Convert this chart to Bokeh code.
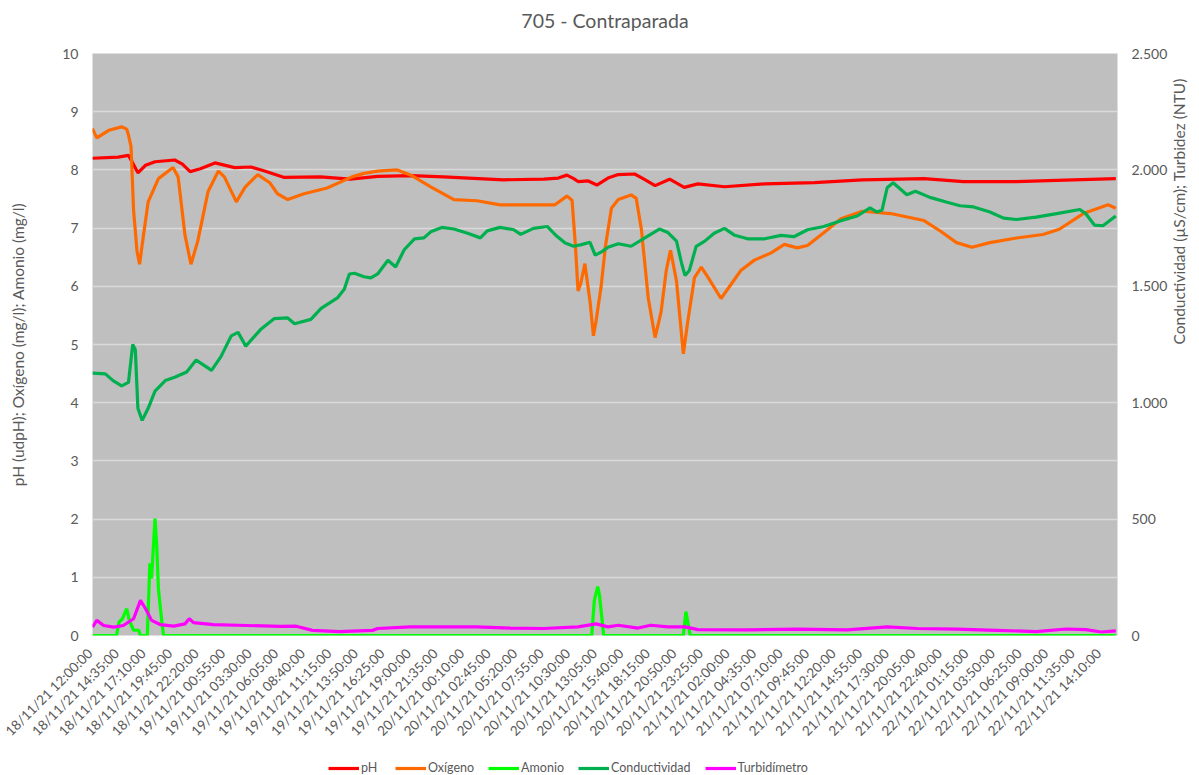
import math
from bokeh.plotting import figure
from bokeh.layouts import column
from bokeh.models import (Range1d, LinearAxis, FixedTicker, Legend, LegendItem, Label)
from bokeh.embed import file_html
from bokeh.resources import INLINE

FONT = "Lato"
GREY = "#595959"

title_text = "705 - Contraparada"

# ---- X axis (minutes since 18/11/21 12:00:00; a label every 155 min) ----
label_step_min = 155
x_labels = [
    "18/11/21  12:00:00", "18/11/21  14:35:00", "18/11/21  17:10:00", "18/11/21  19:45:00", "18/11/21  22:20:00",
    "19/11/21  00:55:00", "19/11/21  03:30:00", "19/11/21  06:05:00", "19/11/21  08:40:00", "19/11/21  11:15:00",
    "19/11/21  13:50:00", "19/11/21  16:25:00", "19/11/21  19:00:00", "19/11/21  21:35:00",
    "20/11/21  00:10:00", "20/11/21  02:45:00", "20/11/21  05:20:00", "20/11/21  07:55:00", "20/11/21  10:30:00",
    "20/11/21  13:05:00", "20/11/21  15:40:00", "20/11/21  18:15:00", "20/11/21  20:50:00", "20/11/21  23:25:00",
    "21/11/21  02:00:00", "21/11/21  04:35:00", "21/11/21  07:10:00", "21/11/21  09:45:00", "21/11/21  12:20:00",
    "21/11/21  14:55:00", "21/11/21  17:30:00", "21/11/21  20:05:00", "21/11/21  22:40:00",
    "22/11/21  01:15:00", "22/11/21  03:50:00", "22/11/21  06:25:00", "22/11/21  09:00:00", "22/11/21  11:35:00",
    "22/11/21  14:10:00",
]
x_end_min = 5985

# ---- pH (udpH) ----
ph_t = [0, 150, 210, 235, 265, 310, 365, 480, 525, 570, 630, 715, 830, 925, 1005, 1120, 1330, 1505, 1665, 1860,
        2050, 2400, 2635, 2720, 2770, 2810, 2835, 2895, 2945, 3010, 3070, 3165, 3215, 3285, 3370, 3455, 3535, 3690,
        3925, 4215, 4495, 4855, 5085, 5395, 5630, 5975]
ph_v = [8.20, 8.22, 8.25, 8.12, 7.95, 8.08, 8.14, 8.17, 8.10, 7.97, 8.02, 8.12, 8.04, 8.05, 7.98, 7.87, 7.88, 7.84,
        7.89, 7.90, 7.88, 7.83, 7.84, 7.86, 7.91, 7.85, 7.80, 7.81, 7.74, 7.86, 7.92, 7.93, 7.85, 7.73, 7.84, 7.70,
        7.76, 7.71, 7.76, 7.78, 7.83, 7.85, 7.80, 7.80, 7.82, 7.85]

# ---- Oxígeno (mg/l) ----
oxi_t = [0, 25, 95, 170, 200, 210, 225, 240, 260, 275, 295, 325, 385, 470, 500, 540, 575, 615, 675, 735,
         770, 840, 890, 965, 1035, 1080, 1140, 1235, 1370, 1515, 1585, 1665, 1780, 1860, 1975, 2110, 2245, 2380,
         2535, 2700, 2770, 2800, 2820, 2835, 2850, 2875, 2905, 2925, 2940, 2970, 2995, 3030, 3070, 3145, 3175,
         3205, 3245, 3285, 3320, 3350, 3375, 3410, 3450, 3475, 3515, 3555, 3595, 3670, 3730, 3785, 3865, 3960,
         4040, 4115, 4175, 4270, 4370, 4495, 4660, 4855, 4950, 5045, 5135, 5240, 5395, 5550, 5645, 5785, 5860,
         5930, 5975]
oxi_v = [8.71, 8.55, 8.68, 8.74, 8.70, 8.60, 8.40, 7.30, 6.60, 6.38, 6.82, 7.45, 7.85, 8.04, 7.88, 6.88, 6.38,
         6.78, 7.63, 7.98, 7.88, 7.45, 7.70, 7.92, 7.78, 7.59, 7.49, 7.59, 7.69, 7.88, 7.94, 7.98, 8.00, 7.91,
         7.71, 7.49, 7.47, 7.40, 7.40, 7.40, 7.55, 7.48, 6.69, 5.92, 6.04, 6.39, 5.74, 5.15, 5.40, 6.00, 6.69,
         7.34, 7.49, 7.57, 7.51, 6.98, 5.80, 5.12, 5.56, 6.27, 6.62, 6.09, 4.84, 5.38, 6.15, 6.33, 6.15, 5.79,
         6.04, 6.27, 6.45, 6.57, 6.72, 6.66, 6.70, 6.92, 7.16, 7.29, 7.25, 7.13, 6.95, 6.75, 6.67, 6.75, 6.83,
         6.89, 6.98, 7.25, 7.33, 7.40, 7.34]

# ---- Amonio (mg/l) ----
amo_t = [0, 140, 155, 175, 200, 215, 240, 270, 280, 320, 335, 345, 365, 375, 385, 405, 415,
         2915, 2930, 2950, 2960, 2985, 3450, 3465, 3490, 5975]
amo_v = [0, 0, 0.23, 0.29, 0.46, 0.26, 0.09, 0.09, 0, 0, 1.24, 0.98, 2.01, 1.55, 0.80, 0.23, 0,
         0, 0.60, 0.84, 0.70, 0, 0, 0.41, 0, 0]

# ---- Conductividad (µS/cm) ----
cond_t = [0, 75, 120, 170, 210, 235, 250, 265, 290, 325, 365, 425, 480, 550, 605, 665, 695, 750, 810, 850,
          895, 985, 1060, 1140, 1180, 1275, 1335, 1430, 1470, 1500, 1530, 1585, 1625, 1665, 1725, 1770, 1820,
          1880, 1935, 1975, 2040, 2110, 2190, 2265, 2305, 2380, 2460, 2500, 2575, 2655, 2710, 2760, 2810, 2855,
          2905, 2935, 2975, 3010, 3070, 3145, 3225, 3310, 3360, 3410, 3440, 3460, 3485, 3525, 3575, 3630, 3690,
          3750, 3825, 3925, 4020, 4095, 4175, 4270, 4370, 4465, 4540, 4580, 4610, 4640, 4675, 4755, 4805, 4890,
          4990, 5065, 5145, 5240, 5320, 5395, 5510, 5630, 5765, 5800, 5850, 5900, 5975]
cond_v = [1127, 1124, 1095, 1072, 1087, 1250, 1228, 976, 924, 976, 1050, 1095, 1109, 1132, 1183, 1154, 1139,
          1198, 1287, 1302, 1243, 1317, 1361, 1364, 1339, 1358, 1405, 1450, 1487, 1553, 1556, 1541, 1536, 1553,
          1612, 1583, 1657, 1704, 1708, 1734, 1753, 1746, 1728, 1708, 1738, 1753, 1743, 1723, 1749, 1757, 1716,
          1686, 1672, 1679, 1689, 1634, 1649, 1668, 1683, 1672, 1708, 1746, 1731, 1694, 1598, 1546, 1568, 1672,
          1694, 1728, 1749, 1719, 1704, 1704, 1719, 1713, 1743, 1757, 1782, 1802, 1837, 1819, 1827, 1923, 1945,
          1893, 1908, 1882, 1861, 1846, 1841, 1819, 1793, 1787, 1797, 1812, 1830, 1812, 1763, 1760, 1802]

# ---- Turbidímetro (NTU) ----
turb_t = [0, 25, 65, 125, 180, 240, 280, 310, 345, 395, 475, 540, 565, 590, 705, 900, 1095, 1190, 1285, 1440,
          1635, 1665, 1855, 2050, 2245, 2440, 2635, 2835, 2940, 3010, 3070, 3185, 3260, 3360, 3460, 3535, 3825,
          4115, 4405, 4640, 4815, 5045, 5280, 5510, 5685, 5800, 5890, 5975]
turb_v = [36, 65, 43, 36, 43, 72, 151, 115, 65, 47, 40, 50, 72, 55, 47, 43, 39, 40, 22, 17,
          22, 30, 37, 37, 37, 32, 30, 37, 50, 37, 44, 32, 44, 37, 37, 25, 24, 27, 24, 37,
          30, 27, 22, 17, 28, 25, 15, 20]

left_ticks = [0, 1, 2, 3, 4, 5, 6, 7, 8, 9, 10]
right_ticks = [0, 500, 1000, 1500, 2000, 2500]
right_tick_labels = ["0", "500", "1.000", "1.500", "2.000", "2.500"]

series_names = ["pH", "Oxígeno", "Amonio", "Conductividad", "Turbidímetro"]
series_colors = ["#FF0000", "#FF6A00", "#00FF00", "#00B050", "#FF00FF"]
series_data = [(ph_t, ph_v), (oxi_t, oxi_v), (amo_t, amo_v), (cond_t, cond_v), (turb_t, turb_v)]

W = 1199
TITLE_H = 40
LEG_H = 28
MAIN_H = 775 - LEG_H - TITLE_H

# ---- title strip ----
tf = figure(width=W, height=TITLE_H, output_backend="svg", toolbar_location=None,
            x_range=Range1d(0, 1), y_range=Range1d(0, 1),
            x_axis_location=None, y_axis_location=None,
            min_border=0, outline_line_color=None,
            background_fill_color="white", border_fill_color="white")
tf.xgrid.visible = False
tf.ygrid.visible = False
tf.add_layout(Label(x=0.5, y=0.5, text=title_text, text_align="center", text_baseline="middle",
                    text_font=FONT, text_font_size="19.5px", text_color=GREY))

# ---- main chart ----
p = figure(width=W, height=MAIN_H, output_backend="svg", toolbar_location=None,
           x_range=Range1d(0, x_end_min), y_range=Range1d(0, 10),
           min_border_left=92, min_border_right=77, min_border_top=53 - TITLE_H,
           min_border_bottom=MAIN_H - (637 - TITLE_H),
           background_fill_color="#BFBFBF", border_fill_color="white", outline_line_color=None)
p.extra_y_ranges = {"sec": Range1d(0, 2500)}
p.title.text = ""
p.title.standoff = 0

p.xgrid.visible = False
p.ygrid.grid_line_color = "#D9D9D9"
p.ygrid.grid_line_width = 1.5
p.ygrid.ticker = FixedTicker(ticks=left_ticks)

xa = p.xaxis[0]
xa.ticker = FixedTicker(ticks=[i * label_step_min for i in range(len(x_labels))])
xa.major_label_overrides = {i * label_step_min: s for i, s in enumerate(x_labels)}
xa.major_label_orientation = math.pi / 4

ya = p.yaxis[0]
ya.ticker = FixedTicker(ticks=left_ticks)
ya.axis_label = "pH (udpH); Oxígeno (mg/l); Amonio (mg/l)"

# right axis with the tick labels
ra = LinearAxis(y_range_name="sec", ticker=FixedTicker(ticks=right_ticks),
                major_label_overrides=dict(zip(right_ticks, right_tick_labels)))
p.add_layout(ra, "right")

# outer right axis carrying only the title, reading bottom-to-top; its bounds
# place the start of the text so that the title sits centred on the chart
ra_title = LinearAxis(y_range_name="sec", ticker=FixedTicker(ticks=[]), bounds=(0, 1386),
                      axis_label="Conductividad (µS/cm); Turbidez (NTU)")
if "axis_label_orientation" in ra_title.properties():
    ra_title.axis_label_orientation = math.pi / 2
p.add_layout(ra_title, "right")

for ax in (xa, ya, ra, ra_title):
    ax.axis_line_color = None
    ax.major_tick_line_color = None
    ax.minor_tick_line_color = None
    ax.major_tick_out = 0
    ax.major_tick_in = 0
    ax.major_label_text_font = FONT
    ax.major_label_text_font_size = "14px"
    ax.major_label_text_color = GREY
    ax.axis_label_text_font = FONT
    ax.axis_label_text_font_size = "15.5px"
    ax.axis_label_text_font_style = "normal"
    ax.axis_label_text_color = GREY
xa.major_label_text_font_size = "13.5px"
xa.major_label_standoff = 13
ya.major_label_standoff = 14
ya.axis_label_standoff = 32
ra.major_label_standoff = 14
ra_title.major_label_standoff = 0
ra_title.axis_label_standoff = 8

LW = 3.2
renderers = []
for (t, v), c, rng in zip(series_data, series_colors, ["default", "default", "default", "sec", "sec"]):
    renderers.append(p.line(t, v, line_color=c, line_width=LW, y_range_name=rng))

# ---- legend strip below the chart (hidden copies of the series feed its swatches) ----
leg = figure(width=W, height=LEG_H, output_backend="svg", toolbar_location=None,
             x_range=Range1d(0, 1), y_range=Range1d(0, 1),
             x_axis_location=None, y_axis_location=None,
             min_border=0, outline_line_color=None,
             background_fill_color="white", border_fill_color="white")
leg.xgrid.visible = False
leg.ygrid.visible = False
swatches = [leg.line(t, v, line_color=c, line_width=LW, visible=False)
            for (t, v), c in zip(series_data, series_colors)]

legend = Legend(items=[LegendItem(label=n, renderers=[r]) for n, r in zip(series_names, swatches)],
                orientation="horizontal", location=(236, 0))
legend.label_text_font = FONT
legend.label_text_font_size = "12.5px"
legend.label_text_color = GREY
legend.glyph_width = 31
legend.glyph_height = 14
legend.label_height = 14
legend.label_standoff = 2
legend.spacing = 14
legend.padding = 0
legend.margin = 0
legend.border_line_color = None
legend.background_fill_alpha = 0
legend.inactive_fill_alpha = 0
leg.add_layout(legend)

layout = column(tf, p, leg, spacing=0)
open("out.html", "w").write(file_html(layout, INLINE))
